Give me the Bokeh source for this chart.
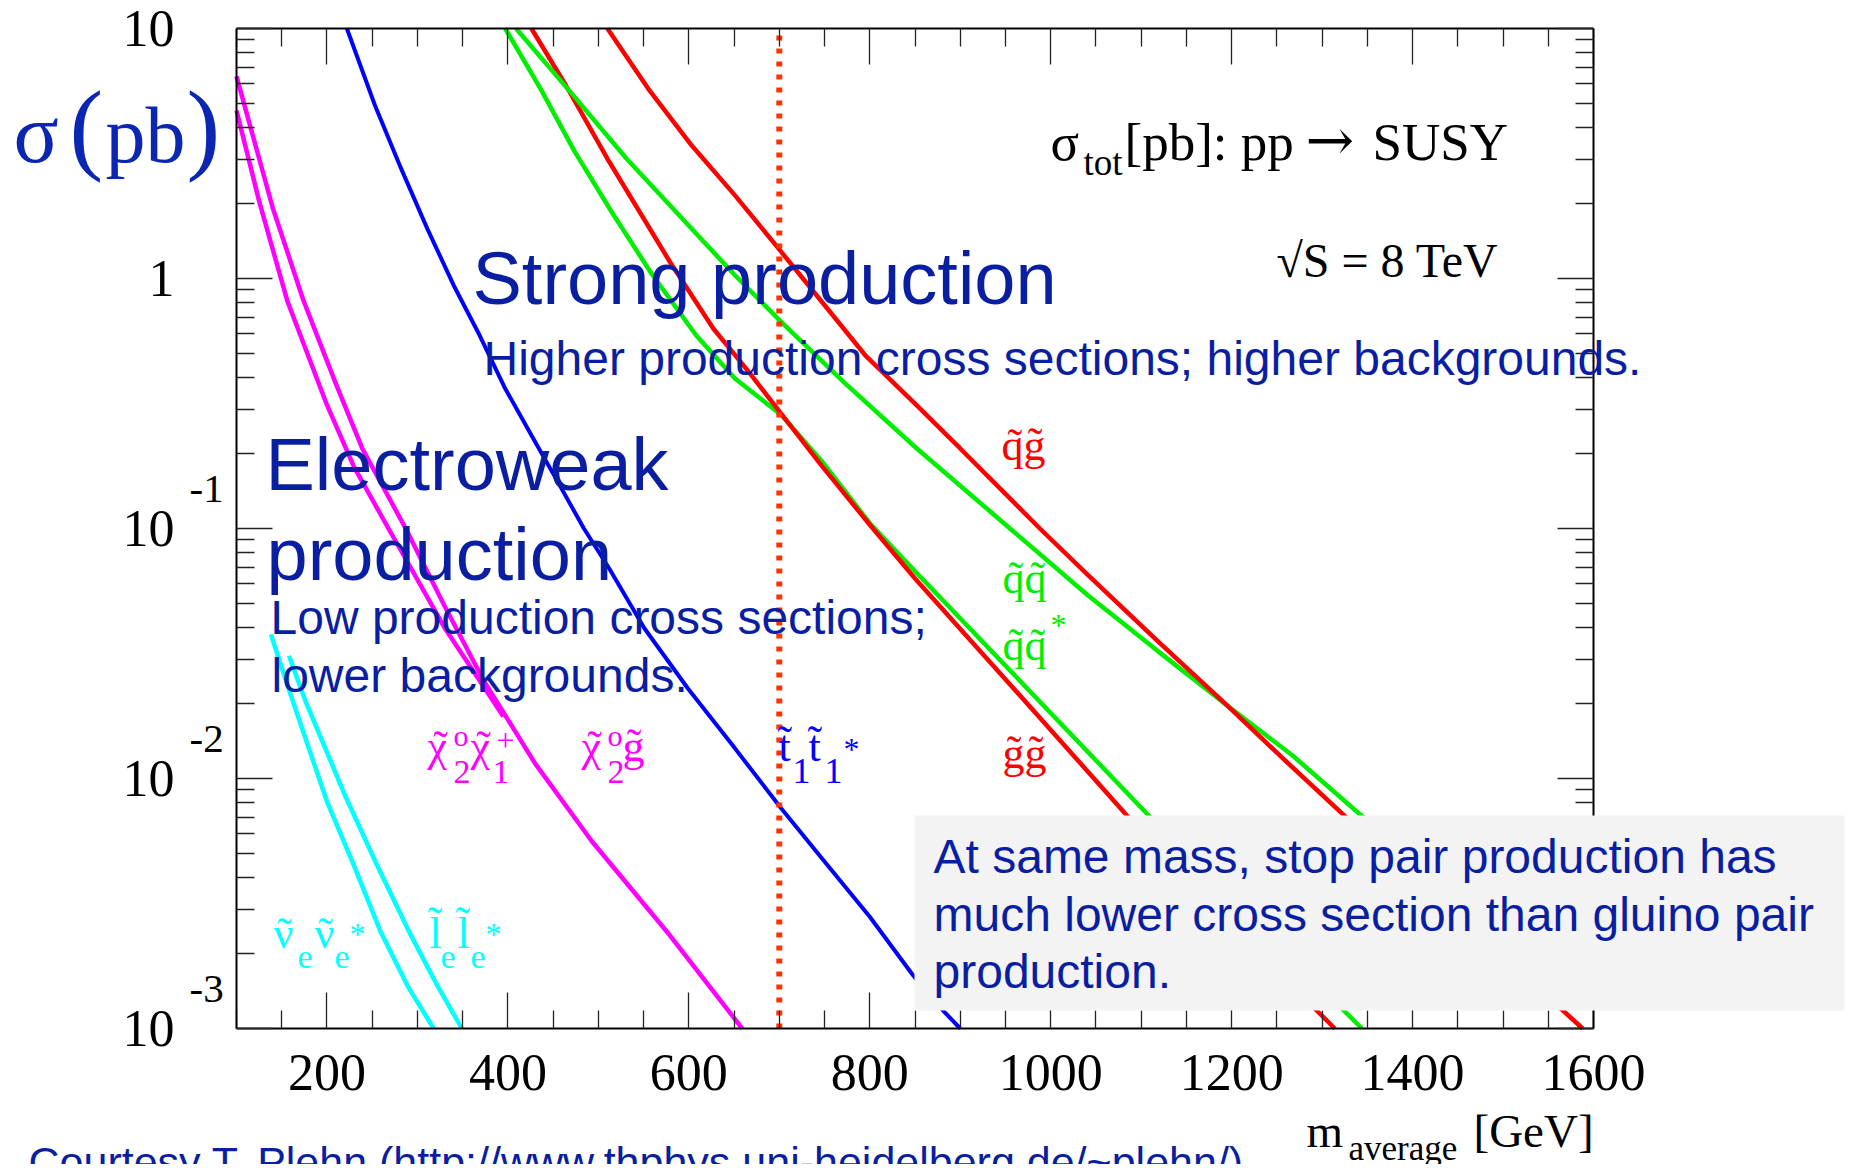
import math
from bokeh.plotting import figure
from bokeh.models import Range1d, FixedTicker, LinearAxis, LogAxis, Label, BoxAnnotation
from bokeh.embed import file_html
from bokeh.resources import INLINE

# ---------------- data ----------------
x_major_ticks = [200, 400, 600, 800, 1000, 1200, 1400, 1600]
x_minor_ticks = [100, 150, 250, 300, 350, 450, 500, 550, 650, 700, 750, 850, 900, 950,
                 1050, 1100, 1150, 1250, 1300, 1350, 1450, 1500, 1550]
y_major_ticks = [0.001, 0.01, 0.1, 1.0, 10.0]
y_tick_labels = ["10", "10", "10", "1", "10"]
y_tick_exponents = ["-3", "-2", "-1", "", ""]
y_minor_ticks = [k * 10.0 ** e for e in (-3, -2, -1, 0) for k in range(2, 10)]

x_min, x_max = 100, 1600
y_min, y_max = 0.001, 10.0
cut_mass = 700

# stop pair  t1 t1*
mass_stop = [222, 253, 282, 311, 340, 369, 397, 426, 455, 484, 512, 551, 599, 651, 702, 747, 800, 848, 881, 900]
xsec_stop = [10.0, 4.93, 2.75, 1.58, 0.94, 0.59, 0.363, 0.236, 0.154, 0.100, 0.0692, 0.0398, 0.0229,
             0.0132, 0.0076, 0.0048, 0.0028, 0.00163, 0.00118, 0.0010]

# neutralino2 + gluino
mass_n2go = [100, 140, 174, 210, 239, 287, 330, 373, 430, 493, 579, 659]
xsec_n2go = [6.43, 1.92, 0.817, 0.378, 0.209, 0.100, 0.049, 0.0247, 0.0115, 0.0056, 0.00236, 0.0010]

# neutralino2 + chargino1
mass_n2c1 = [100, 125, 156, 200, 230, 268, 330, 395]
xsec_n2c1 = [4.70, 2.04, 0.817, 0.312, 0.176, 0.100, 0.0401, 0.0177]

# sneutrino pair
mass_snu = [138, 162, 200, 230, 259, 290, 318]
xsec_snu = [0.0377, 0.0205, 0.00809, 0.00447, 0.00245, 0.00146, 0.0010]

# selectron pair
mass_sel = [158, 176, 220, 255, 292, 320, 349]
xsec_sel = [0.0310, 0.0205, 0.00855, 0.00453, 0.00239, 0.00153, 0.0010]

# squark + gluino
mass_sqgo = [510, 555, 603, 651, 702, 747, 795, 850, 900, 988, 1041, 1118, 1195, 1257, 1324, 1400, 1500, 1588]
xsec_sqgo = [10.0, 5.75, 3.41, 2.15, 1.28, 0.807, 0.493, 0.316, 0.209, 0.100, 0.0653, 0.0355, 0.0196,
             0.0120, 0.00713, 0.00407, 0.00195, 0.0010]

# squark pair
mass_sqsq = [409, 469, 531, 579, 651, 702, 771, 852, 955, 1041, 1118, 1195, 1267, 1343, 1450, 1600]
xsec_sqsq = [10.0, 5.58, 3.02, 1.963, 1.03, 0.671, 0.386, 0.209, 0.100, 0.0541, 0.0324, 0.0196,
             0.01239, 0.00713, 0.00347, 0.00132]

# gluino pair
mass_gogo = [426, 464, 512, 579, 627, 666, 702, 747, 800, 850, 969, 1084, 1200, 1314]
xsec_gogo = [10.0, 5.93, 2.93, 1.167, 0.631, 0.424, 0.288, 0.178, 0.1035, 0.0631, 0.0209, 0.00713, 0.00258, 0.0010]

# squark anti-squark
mass_sqsb = [397, 436, 474, 517, 560, 608, 651, 702, 747, 800, 849, 1108, 1344]
xsec_sqsb = [10.0, 5.75, 3.21, 1.79, 1.03, 0.593, 0.398, 0.285, 0.186, 0.105, 0.0681, 0.00713, 0.0010]

# ---------------- geometry ----------------
W, H = 1852, 1164
FL, FT, FW, FH = 236, 28, 1357, 1000   # data frame (x_min..x_max, y_min..y_max) in canvas pixels

LX0, LX1 = math.log10(y_min), math.log10(y_max)


def mx(X):
    return x_min + (X - FL) * (x_max - x_min) / FW


def sy(Y):
    return 10 ** (LX1 - (Y - FT) * (LX1 - LX0) / FH)


# the whole canvas is the plotting frame; axes are pinned at the data edges
p = figure(width=W, height=H, x_range=Range1d(mx(0), mx(W)), y_range=Range1d(sy(H), sy(0)),
           y_axis_type="log", output_backend="svg", toolbar_location=None, min_border=0)
p.grid.visible = False
p.outline_line_color = None
p.background_fill_color = "white"
p.border_fill_color = "white"

xt = FixedTicker(ticks=x_major_ticks, minor_ticks=x_minor_ticks)
yt = FixedTicker(ticks=y_major_ticks, minor_ticks=y_minor_ticks)


def style_axis(ax, labels=True):
    ax.axis_line_color = "black"
    ax.axis_line_width = 2
    ax.major_tick_in = 36
    ax.major_tick_out = 0
    ax.minor_tick_in = 18
    ax.minor_tick_out = 0
    ax.major_tick_line_color = "#222222"
    ax.minor_tick_line_color = "#222222"
    ax.major_tick_line_width = 1.3
    ax.minor_tick_line_width = 1.3
    if not labels:
        ax.major_label_text_font_size = "1px"
        ax.major_label_standoff = 0


xa = p.xaxis[0]
xa.ticker = xt
style_axis(xa)
xa.fixed_location = y_min
xa.bounds = (x_min, x_max)
xa.major_label_text_font = "Liberation Serif"
xa.major_label_text_font_size = "52px"
xa.major_label_text_color = "black"
xa.major_label_standoff = 26

ya = p.yaxis[0]
ya.ticker = yt
style_axis(ya)
ya.fixed_location = x_min
ya.bounds = (y_min, y_max)
ya.major_label_text_font = "Liberation Serif"
ya.major_label_text_font_size = "52px"
ya.major_label_text_color = "black"
ya.major_label_standoff = 62
ya.major_label_overrides = {t: s for t, s in zip(y_major_ticks, y_tick_labels)}

top_ax = LinearAxis(ticker=xt, major_label_overrides={t: "" for t in x_major_ticks},
                    fixed_location=y_max, bounds=(x_min, x_max))
style_axis(top_ax, labels=False)
p.add_layout(top_ax, "above")
right_ax = LogAxis(ticker=yt, major_label_overrides={t: "" for t in y_major_ticks},
                   fixed_location=x_max, bounds=(y_min, y_max))
style_axis(right_ax, labels=False)
p.add_layout(right_ax, "right")

# ---------------- curves ----------------
LW = 4.5
p.line(mass_snu, xsec_snu, line_color="#00ffff", line_width=LW)
p.line(mass_sel, xsec_sel, line_color="#00ffff", line_width=LW)
p.line(mass_n2c1, xsec_n2c1, line_color="#ff00ff", line_width=LW)
p.line(mass_n2go, xsec_n2go, line_color="#ff00ff", line_width=LW)
p.line(mass_stop, xsec_stop, line_color="#0000ff", line_width=4)
p.line(mass_sqsb, xsec_sqsb, line_color="#00ee00", line_width=LW)
p.line(mass_gogo, xsec_gogo, line_color="#ff0000", line_width=LW)
p.line(mass_sqsq, xsec_sqsq, line_color="#00ee00", line_width=LW)
p.line(mass_sqgo, xsec_sqgo, line_color="#ff0000", line_width=LW)
p.line([cut_mass, cut_mass], [y_min, y_max], line_color="#ff3300", line_width=6, line_dash="5 8")

BASE_SHIFT = 0.35   # SVG text baseline correction (fraction of font size)


def put(text, X, Y, size, color, font="Liberation Serif", align="left"):
    p.add_layout(Label(x=mx(X), y=sy(Y - BASE_SHIFT * size), text=text, text_font=font,
                       text_font_size=f"{size}px", text_color=color,
                       text_align=align, text_baseline="alphabetic"))


def tilde(Xc, Y, size, color):
    put("\u02dc", Xc, Y, size, color, align="center")


# y-axis exponents
for t, e in zip(y_major_ticks, y_tick_exponents):
    if e:
        ty = FT + (LX1 - math.log10(t)) * FH / (LX1 - LX0)
        put(e, 189, ty - 25, 41, "black")

# y-axis title  sigma(pb)
TB = "#0a26b2"
put("σ", 13, 162, 84, TB)
put("(", 69, 162, 101, TB)
put("pb", 105, 162, 80, TB)
put(")", 186, 162, 101, TB)

# x-axis title
put("m", 1306, 1147, 47, "black")
put("average", 1348, 1160, 35, "black")
put("[GeV]", 1473, 1147, 47, "black")

# header texts
put("σ", 1050, 160, 53, "black")
put("tot", 1083, 175, 37, "black")
put("[pb]: pp", 1124, 160, 53, "black")
put("→", 1305, 160, 58, "black", "DejaVu Serif")
put("SUSY", 1372, 160, 53, "black")
put("√S = 8 TeV", 1276, 277, 48, "black")

# curve labels
RED, GRN, BLU, MAG, CYN = "#ff0000", "#00ee00", "#0000ff", "#ff00ff", "#00ffff"
put("q\u0303g\u0303", 1001, 460, 44, RED)
put("q\u0303q\u0303", 1002, 593, 44, GRN)
put("q\u0303q\u0303", 1002, 660, 44, GRN)
put("*", 1050, 636, 32, GRN)
put("g\u0303g\u0303", 1002, 768, 44, RED)

put("t\u0303", 778, 761, 44, BLU)
put("1", 792, 783, 36, BLU)
put("t\u0303", 808, 761, 44, BLU)
put("1", 824, 783, 36, BLU)
put("*", 843, 760, 32, BLU)

put("χ", 427, 761, 44, MAG)
tilde(440, 761, 44, MAG)
put("o", 453, 745, 30, MAG)
put("2", 453, 783, 34, MAG)
put("χ", 470, 761, 44, MAG)
tilde(483, 761, 44, MAG)
put("+", 496, 751, 32, MAG)
put("1", 492, 783, 34, MAG)

put("χ", 581, 761, 44, MAG)
tilde(594, 761, 44, MAG)
put("o", 607, 745, 30, MAG)
put("2", 607, 783, 34, MAG)
put("g\u0303", 622, 761, 44, MAG)

put("ν", 273, 948, 44, CYN)
tilde(284, 948, 44, CYN)
put("e", 297, 968, 34, CYN)
put("ν", 314, 948, 44, CYN)
tilde(325, 948, 44, CYN)
put("e", 334, 968, 34, CYN)
put("*", 349, 945, 32, CYN)

put("l\u0303", 429, 948, 44, CYN)
put("e", 440, 968, 34, CYN)
put("l\u0303", 457, 948, 44, CYN)
put("e", 470, 968, 34, CYN)
put("*", 485, 945, 32, CYN)

# slide annotations
DB = "#0a1ea2"
SANS = "Liberation Sans"
put("Strong production", 472, 304, 74, DB, SANS)
put("Higher production cross sections; higher backgrounds.", 483, 375, 48, DB, SANS)
put("Electroweak", 265, 490, 74, DB, SANS)
put("production", 266, 580, 74, DB, SANS)
put("Low production cross sections;", 270, 634, 48, DB, SANS)
put("lower backgrounds.", 271, 692, 48, DB, SANS)

box = BoxAnnotation(left=mx(914), right=mx(1844), top=sy(815), bottom=sy(1010),
                    fill_color="#f3f3f3", fill_alpha=1.0, line_color=None)
p.add_layout(box)
put("At same mass, stop pair production has", 933, 873, 48, DB, SANS)
put("much lower cross section than gluino pair", 933, 931, 48, DB, SANS)
put("production.", 933, 988, 48, DB, SANS)

put("Courtesy T. Plehn (http://www.thphys.uni-heidelberg.de/~plehn/)", 28, 1177, 43, DB, SANS)

open("out.html", "w").write(file_html(p, INLINE))
